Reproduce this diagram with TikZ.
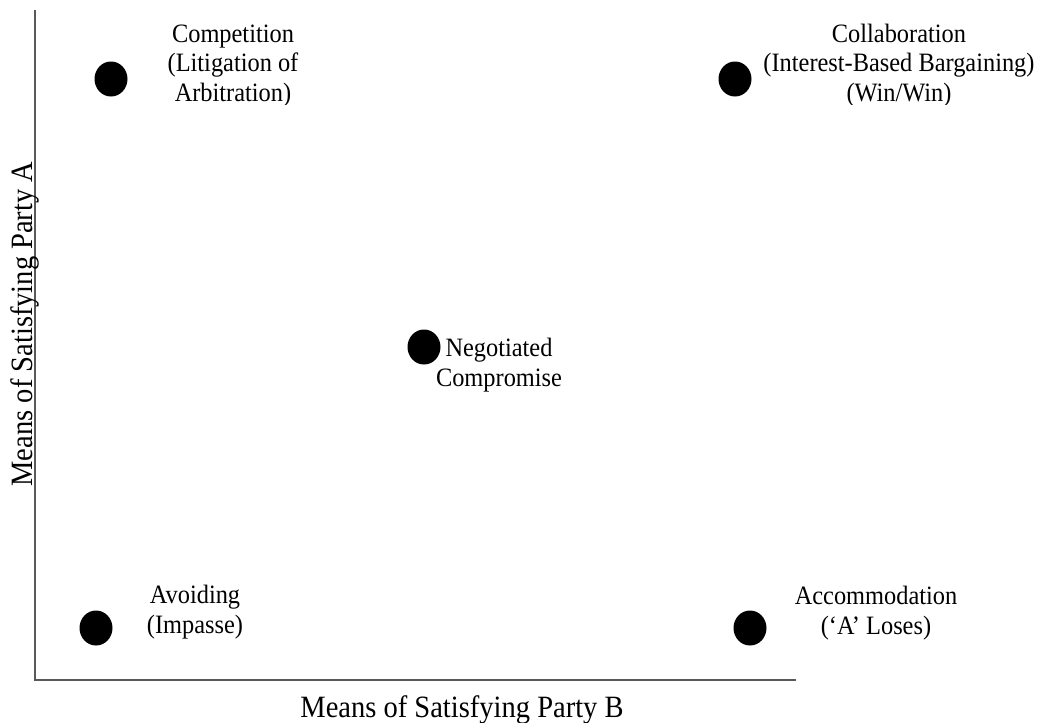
\documentclass[tikz,border=0pt]{standalone}
\usepackage{fontspec}
\setmainfont{Liberation Serif}[FakeStretch=0.92]
\usetikzlibrary{shapes.geometric}
\begin{document}
\begin{tikzpicture}[x=1pt,y=-1pt,
  dot/.style={ellipse,fill=black,draw=none,inner sep=0pt,minimum width=33pt,minimum height=35pt},
  lbl/.style={align=center,anchor=base,inner sep=0pt,font=\fontsize{26.5}{29.5}\selectfont},
  axislbl/.style={anchor=base,inner sep=0pt,font=\fontsize{31}{34}\selectfont},
  axisline/.style={draw=black!65,line width=2pt}]
\useasboundingbox (0,0) rectangle (1039,723);

% axes
\coordinate (top) at (35,10);
\coordinate (origin) at (35,680);
\coordinate (right) at (796,680);
\draw[axisline] (top) -- (origin) -- (right);

% axis titles
\node[axislbl] (xlabel) at (462,717) {Means of Satisfying Party B};
\node[axislbl,rotate=90] (ylabel) at (32,324) {Means of Satisfying Party A};

% points
\node[dot] (pcomp) at (111,79) {};
\node[dot] (pcoll) at (735,79) {};
\node[dot] (pneg) at (424,347) {};
\node[dot] (pavoid) at (96,628) {};
\node[dot] (pacc) at (750,628) {};

% labels are anchored at the baseline of their last line;
% the top labels are cut off just below that line
\begin{scope}
\clip (0,0) rectangle (1039,104);
\node[lbl] (tcomp) at (233,101) {Competition\\(Litigation of\\Arbitration)};
\node[lbl] (tcoll) at (899,101) {Collaboration\\(Interest-Based Bargaining)\\(Win/Win)};
\end{scope}

\node[lbl] (tneg) at (499,386) {Negotiated\\Compromise};
\node[lbl] (tavoid) at (195,633) {Avoiding\\(Impasse)};
\node[lbl] (tacc) at (876,634) {Accommodation\\(‘A’ Loses)};
\end{tikzpicture}
\end{document}
